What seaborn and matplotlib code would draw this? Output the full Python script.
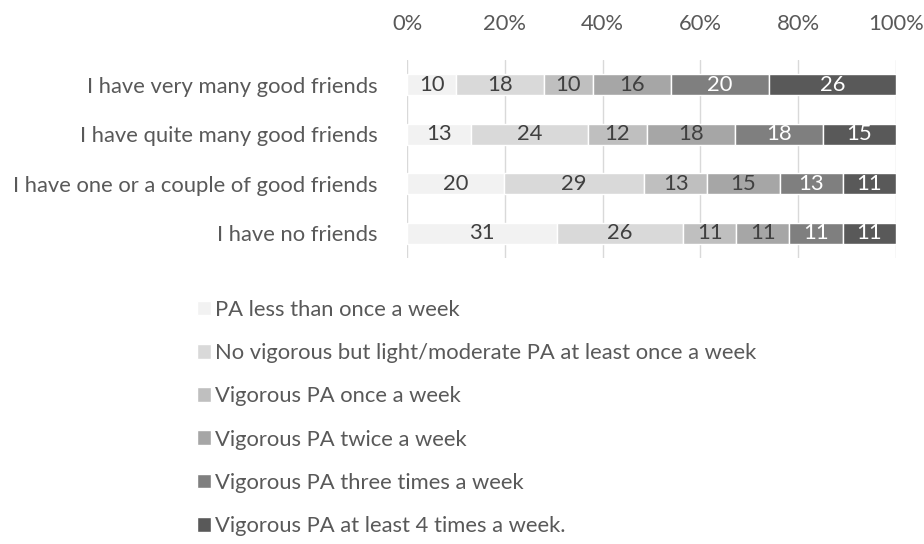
import numpy as np
import pandas as pd
import matplotlib
matplotlib.use("Agg")
from matplotlib import pyplot as plt
import seaborn as sns

# categories (top to bottom) and the six activity levels, values in %
categories = ["I have very many good friends",
              "I have quite many good friends",
              "I have one or a couple of good friends",
              "I have no friends"]
series_names = ["PA less than once a week",
                "No vigorous but light/moderate PA at least once a week",
                "Vigorous PA once a week",
                "Vigorous PA twice a week",
                "Vigorous PA three times a week",
                "Vigorous PA at least 4 times a week."]
pa_less_once = [10, 13, 20, 31]
no_vig_light = [18, 24, 29, 26]
vig_once = [10, 12, 13, 11]
vig_twice = [16, 18, 15, 11]
vig_three = [20, 18, 13, 11]
vig_four = [26, 15, 11, 11]

colors = ["#f2f2f2", "#d9d9d9", "#bfbfbf", "#a6a6a6", "#7f7f7f", "#595959"]
label_colors = ["#404040", "#404040", "#404040", "#404040", "white", "white"]

sns.set_style("white")
plt.rcParams["font.family"] = ["Lato", "DejaVu Sans"]
fs = 15.8

values = np.array([pa_less_once, no_vig_light, vig_once, vig_twice, vig_three, vig_four], dtype=float)
# 100% stacked: rows are normalised to their total
shares = values / values.sum(axis=0) * 100
lefts = np.vstack([np.zeros(4), np.cumsum(shares, axis=0)[:-1]])

fig = plt.figure(figsize=(9.24, 5.44), dpi=100)
ax = fig.add_axes([0.4405, 0.5257, 0.5292, 0.364])

for i, name in enumerate(series_names):
    sns.barplot(x=shares[i], y=categories, left=lefts[i], color=colors[i],
                width=0.42, label=name, ax=ax, orient="h", saturation=1)
    ax.bar_label(ax.containers[-1], labels=[str(int(v)) for v in values[i]],
                 label_type="center", color=label_colors[i], fontsize=fs)

handles, labels = ax.get_legend_handles_labels()
if ax.get_legend() is not None:
    ax.get_legend().remove()

ax.set_xlim(0, 100)
ax.set_xticks(np.arange(0, 101, 20))
ax.set_xticklabels([f"{t}%" for t in range(0, 101, 20)])
ax.xaxis.tick_top()
ax.tick_params(axis="x", length=0, pad=19, colors="#595959", labelsize=fs)
ax.tick_params(axis="y", length=0, pad=21, colors="#595959", labelsize=fs)
ax.grid(axis="x", color="#d9d9d9", linewidth=1)
ax.set_axisbelow(True)
for s in ax.spines.values():
    s.set_visible(False)
ax.set_xlabel("")
ax.set_ylabel("")

fig.legend(handles, labels, loc="upper left", bbox_to_anchor=(0.213, 0.449),
           ncol=1, frameon=False, fontsize=fs, labelcolor="#595959",
           handlelength=0.65, handleheight=0.65, handletextpad=0.18,
           labelspacing=1.06, borderpad=0, borderaxespad=0)

fig.savefig("out.png", dpi=100)
